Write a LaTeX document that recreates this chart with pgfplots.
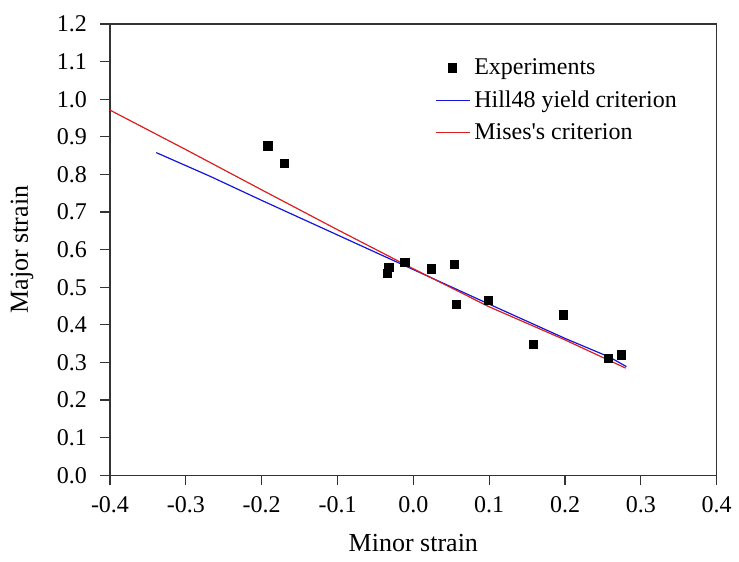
\documentclass[border=0pt]{standalone}
\usepackage{fontspec}
\setmainfont{Liberation Serif}[Ligatures=TeXOff]
\usepackage{pgfplots}
\pgfplotsset{compat=1.18}
\definecolor{hillblue}{RGB}{20,20,220}
\definecolor{misesred}{RGB}{220,30,30}
\begin{document}
\begin{tikzpicture}
\path[use as bounding box] (-55pt,-43.35pt) rectangle (314.5pt,237.65pt);
\begin{axis}[
  at={(0,0)}, anchor=south west,
  width=303.35pt, height=225.65pt, scale only axis,
  xmin=-0.4, xmax=0.4, ymin=0, ymax=1.2,
  xtick={-0.4,-0.3,-0.2,-0.1,0,0.1,0.2,0.3,0.4},
  xticklabels={-0.4,-0.3,-0.2,-0.1,0.0,0.1,0.2,0.3,0.4},
  ytick={0,0.1,0.2,0.3,0.4,0.5,0.6,0.7,0.8,0.9,1.0,1.1,1.2},
  yticklabels={0.0,0.1,0.2,0.3,0.4,0.5,0.6,0.7,0.8,0.9,1.0,1.1,1.2},
  tick align=outside, major tick length=5pt,
  xtick pos=bottom, ytick pos=left,
  tick style={black!80, line width=0.6pt},
  axis line style={black!80, line width=0.7pt},
  ticklabel style={font=\fontsize{12}{14}\selectfont},
  xticklabel style={yshift=-2pt},
  yticklabel style={xshift=-3pt},
  xlabel={Minor strain}, ylabel={Major strain},
  label style={font=\fontsize{13}{15}\selectfont},
  xlabel style={at={(axis description cs:0.5,-0.150)}, anchor=center},
  ylabel style={at={(axis description cs:-0.145,0.5)}, anchor=center},
  legend style={draw=none, fill=none, at={(0.525,0.942)}, anchor=north west,
    font=\fontsize{12}{15.5}\selectfont, row sep=2.5pt},
  legend cell align=left,
]
\addplot[only marks, mark=square*, mark size=2.1pt, black] coordinates {
(-0.192,0.876) (-0.170,0.830) (-0.032,0.553) (-0.034,0.537) (-0.011,0.566)
(0.024,0.549) (0.054,0.560) (0.057,0.455) (0.099,0.465) (0.198,0.426)
(0.158,0.348) (0.257,0.311) (0.274,0.320)};
\addlegendentry{Experiments}
\addplot[color=hillblue, line width=0.6pt, mark=none] coordinates {
(-0.339,0.858) (-0.268,0.795) (-0.2,0.731) (-0.1,0.639) (0,0.547)
(0.1,0.455) (0.2,0.364) (0.259,0.314) (0.281,0.289)};
\addlegendentry{Hill48 yield criterion}
\addplot[color=misesred, line width=0.6pt, mark=none] coordinates {
(-0.4,0.971) (-0.3,0.866) (-0.2,0.759) (-0.1,0.653) (0,0.549)
(0.1,0.448) (0.2,0.360) (0.28,0.285)};
\addlegendentry{Mises's criterion}
\end{axis}
\end{tikzpicture}
\end{document}
